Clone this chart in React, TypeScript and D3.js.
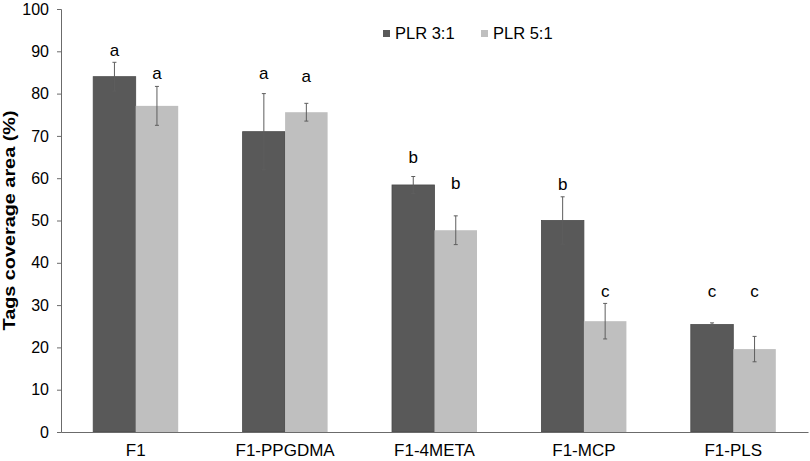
import * as d3 from "d3";
import React, { useEffect, useRef } from "react";

const categories = ["F1", "F1-PPGDMA", "F1-4META", "F1-MCP", "F1-PLS"];
const seriesNames = ["PLR 3:1", "PLR 5:1"];
const plr31 = [84.0, 71.0, 58.4, 50.0, 25.4];
const plr51 = [77.1, 75.6, 47.7, 26.2, 19.6];
const err31 = [3.4, 9.0, 2.0, 5.6, 0.4];
const err51 = [4.6, 2.1, 3.4, 4.2, 3.0];
const letters31 = ["a", "a", "b", "b", "c"];
const letters51 = ["a", "a", "b", "c", "c"];
const letterY31 = [90.3, 84.9, 65.1, 58.6, 33.3];
const letterY51 = [84.9, 84.2, 58.9, 33.3, 33.3];
const yTicks = [0, 10, 20, 30, 40, 50, 60, 70, 80, 90, 100];

const colors = ["#595959", "#bfbfbf"];
const font = "'Liberation Sans', Arial, sans-serif";

const App = () => {
  const svgRef = useRef<SVGSVGElement>(null);

  useEffect(() => {
    const svg = d3.select(svgRef.current);
    svg.selectAll("*").remove();

    const width = 810;
    const height = 461;
    const margin = { top: 9, right: 2, bottom: 29, left: 61 };

    const x = d3
      .scaleBand()
      .domain(categories)
      .range([margin.left, width - margin.right]);
    const inner = d3
      .scaleBand()
      .domain(seriesNames)
      .range([x.bandwidth() / 2 - 42.5, x.bandwidth() / 2 + 42.5]);
    const y = d3
      .scaleLinear()
      .domain([0, 100])
      .range([height - margin.bottom, margin.top]);

    const rows = categories.map((c, i) => [
      { cat: c, s: seriesNames[0], v: plr31[i], e: err31[i], l: letters31[i], ly: letterY31[i], k: 0 },
      { cat: c, s: seriesNames[1], v: plr51[i], e: err51[i], l: letters51[i], ly: letterY51[i], k: 1 },
    ]).flat();

    const cx = (d: { cat: string; s: string }) =>
      (x(d.cat) as number) + (inner(d.s) as number) + inner.bandwidth() / 2;

    // bars
    svg
      .append("g")
      .selectAll("rect")
      .data(rows)
      .join("rect")
      .attr("x", (d) => (x(d.cat) as number) + (inner(d.s) as number))
      .attr("y", (d) => y(d.v))
      .attr("width", inner.bandwidth())
      .attr("height", (d) => y(0) - y(d.v))
      .attr("fill", (d) => colors[d.k])
      .attr("stroke", (d) => (d.k === 0 ? "#4a4a4a" : "none"))
      .attr("stroke-width", 0.8);

    // error bars
    const eb = svg
      .append("g")
      .attr("stroke", "#5e5e5e")
      .attr("stroke-width", 1)
      .selectAll("g")
      .data(rows)
      .join("g")
      .attr("transform", (d) => `translate(${cx(d)},0)`);
    eb.append("line")
      .attr("y1", (d) => y(d.v + d.e))
      .attr("y2", (d) => y(d.v - d.e));
    eb.append("line")
      .attr("x1", -2)
      .attr("x2", 2)
      .attr("y1", (d) => y(d.v + d.e))
      .attr("y2", (d) => y(d.v + d.e));
    eb.append("line")
      .attr("x1", -2)
      .attr("x2", 2)
      .attr("y1", (d) => y(d.v - d.e))
      .attr("y2", (d) => y(d.v - d.e));

    // letters
    svg
      .append("g")
      .selectAll("text")
      .data(rows)
      .join("text")
      .attr("x", cx)
      .attr("y", (d) => y(d.ly))
      .attr("dy", "0.35em")
      .attr("text-anchor", "middle")
      .style("font-family", font)
      .style("font-size", "17px")
      .attr("fill", "#000")
      .text((d) => d.l);

    // y axis
    const yAxis = svg
      .append("g")
      .attr("transform", `translate(${margin.left},0)`)
      .call(d3.axisLeft(y).tickValues(yTicks).tickSize(4).tickPadding(8));
    yAxis.select(".domain").attr("stroke", "#6b6b6b");
    yAxis.selectAll(".tick line").attr("stroke", "#6b6b6b");
    yAxis
      .selectAll(".tick text")
      .style("font-family", font)
      .style("font-size", "16px")
      .attr("fill", "#000");

    // x axis
    const xAxis = svg
      .append("g")
      .attr("transform", `translate(0,${y(0)})`)
      .call(d3.axisBottom(x).tickSize(0).tickPadding(12));
    xAxis.select(".domain").attr("stroke", "#6b6b6b");
    xAxis
      .selectAll(".tick text")
      .style("font-family", font)
      .style("font-size", "17px")
      .attr("fill", "#000");

    // y title
    svg
      .append("text")
      .attr("transform", `translate(15,${(y(0) + y(100)) / 2}) rotate(-90)`)
      .attr("text-anchor", "middle")
      .attr("textLength", 220)
      .attr("lengthAdjust", "spacingAndGlyphs")
      .style("font-family", font)
      .style("font-size", "17px")
      .style("font-weight", "bold")
      .text("Tags coverage area (%)");

    // legend
    const legendX = [383, 481];
    const lg = svg
      .append("g")
      .selectAll("g")
      .data(seriesNames)
      .join("g")
      .attr("transform", (_d, i) => `translate(${legendX[i]},30)`);
    lg.append("rect")
      .attr("width", 7)
      .attr("height", 7)
      .attr("fill", (_d, i) => colors[i]);
    lg.append("text")
      .attr("x", 12)
      .attr("y", 9)
      .style("font-family", font)
      .style("font-size", "16.5px")
      .text((d) => d);
  }, []);

  return (
    <svg
      ref={svgRef}
      width={810}
      height={461}
      style={{ position: "absolute", left: 0, top: 0, background: "#fff" }}
    />
  );
};

export default App;
